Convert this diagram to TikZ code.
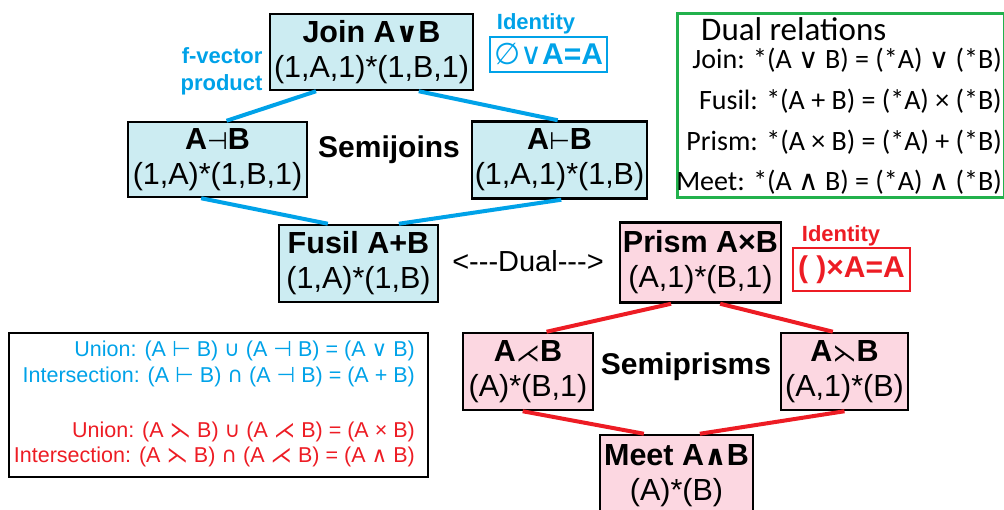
\documentclass[tikz,border=0pt]{standalone}
\usepackage{fontspec}
\setmainfont{Liberation Sans}
\newfontfamily\symf{DejaVu Sans}
\newfontfamily\calf{Carlito}
\usetikzlibrary{calc}
\definecolor{jblue}{RGB}{0,162,232}
\definecolor{jfill}{RGB}{204,236,242}
\definecolor{pred}{RGB}{237,28,36}
\definecolor{pfill}{RGB}{252,215,225}
\definecolor{dgreen}{RGB}{34,177,76}
\newcommand{\op}[1]{{\symf\mdseries #1}}
\newcommand{\sop}[1]{{\symf\fontsize{28}{28}\selectfont #1}}
\newcommand{\tiop}[1]{{\symf\mdseries\fontsize{24}{24}\selectfont #1}}

\begin{document}
\begin{tikzpicture}[x=1pt,y=-1pt]
    \useasboundingbox (0,0) rectangle (1004,510);
    \begin{scope}[every node/.style={draw=black,line width=2.5pt,inner sep=0pt,align=center,
        font=\fontsize{30.5}{35}\selectfont}]
      \node[fill=jfill,minimum width=203,minimum height=76] (J) at (371.5,52) {\textbf{Join A\sop{∨}B}\\(1,A,1)*(1,B,1)};
      \node[fill=jfill,minimum width=179,minimum height=75] (SL) at (217.5,159.5) {\textbf{A\tiop{⊣}B}\\(1,A)*(1,B,1)};
      \node[fill=jfill,minimum width=175,minimum height=77] (SR) at (559.5,160) {\textbf{A\tiop{⊢}B}\\(1,A,1)*(1,B)};
      \node[fill=jfill,minimum width=159,minimum height=77] (F) at (358.5,263.5) {\textbf{Fusil A+B}\\(1,A)*(1,B)};

      \node[fill=pfill,minimum width=161,minimum height=80] (P) at (700.5,262.5) {\textbf{Prism A×B}\\(A,1)*(B,1)};
      \node[fill=pfill,minimum width=130,minimum height=77] (QL) at (528,371.5) {\textbf{A\tiop{⋌}B}\\(A)*(B,1)};
      \node[fill=pfill,minimum width=127,minimum height=77] (QR) at (844.5,371.5) {\textbf{A\tiop{⋋}B}\\(A,1)*(B)};
      \node[fill=pfill,minimum width=153,minimum height=82] (M) at (676.5,476) {\textbf{Meet A\sop{∧}B}\\(A)*(B)};
    \end{scope}

    \begin{scope}[every edge/.style={draw=jblue,line width=4pt}]
      \path ($(J.south west)!.23!(J.south east)$) edge ($(SL.north west)!.55!(SL.north east)$);
      \path ($(J.south west)!.73!(J.south east)$) edge ($(SR.north west)!.49!(SR.north east)$);
      \path ($(SL.south west)!.41!(SL.south east)$) edge ($(F.north west)!.31!(F.north east)$);
      \path ($(SR.south west)!.51!(SR.south east)$) edge ($(F.north west)!.75!(F.north east)$);
    \end{scope}

    \begin{scope}[every edge/.style={draw=pred,line width=4pt}]
      \path ($(P.south west)!.32!(P.south east)$) edge ($(QL.north west)!.64!(QL.north east)$);
      \path ($(P.south west)!.62!(P.south east)$) edge ($(QR.north west)!.41!(QR.north east)$);
      \path ($(QL.south west)!.46!(QL.south east)$) edge ($(M.north west)!.29!(M.north east)$);
      \path ($(QR.south west)!.5!(QR.south east)$) edge ($(M.north west)!.65!(M.north east)$);
    \end{scope}

    \node[font=\bfseries\fontsize{30}{30}\selectfont] (sj) at (389,150) {Semijoins};
    \node[font=\bfseries\fontsize{30}{30}\selectfont] (sp) at (686,367) {Semiprisms};
    \node[font=\fontsize{29}{29}\selectfont] (du) at (528,261) {<{-}{-}{-}Dual{-}{-}{-}>};

    \node[anchor=east,align=right,text=jblue,font=\bfseries\fontsize{22}{27}\selectfont] (fv) at (266,71) {f-vector\\product};

    \begin{scope}[every node/.style={font=\bfseries\fontsize{22}{22}\selectfont}]
      \node[anchor=base,text=jblue] (ij) at (536,30) {Identity};
      \node[anchor=base,text=pred] (ip) at (841,242) {Identity};
    \end{scope}
    \node[draw=jblue,line width=2pt,minimum width=117,minimum height=35,inner sep=0pt,text=jblue,
      font=\fontsize{30}{30}\selectfont] (ijx) at (548.5,54.5) {\op{∅∨}\textbf{A=A}};
    \node[draw=pred,line width=2pt,minimum width=117,minimum height=43,inner sep=0pt,text=pred,
      font=\bfseries\fontsize{30}{30}\selectfont] (ipx) at (851.5,269.5) {( )×A=A};

    \node[draw=dgreen,line width=3pt,minimum width=327,minimum height=184,inner sep=0pt] (dr) at (840.5,106) {};
    \begin{scope}[every node/.style={font=\calf\fontsize{28}{28}\selectfont,inner sep=0pt}]
      \node[anchor=base west,font=\calf\fontsize{33}{33}\selectfont] (drt) at (701,41) {Dual relations};
      \node[anchor=base east] (dr1) at (1002,69) {Join: *(A \op{∨} B) = (*A) \op{∨} (*B)};
      \node[anchor=base east] (dr2) at (1002,110) {Fusil: *(A + B) = (*A) × (*B)};
      \node[anchor=base east] (dr3) at (1002,151) {Prism: *(A × B) = (*A) + (*B)};
      \node[anchor=base east] (dr4) at (1002,191) {Meet: *(A \op{∧} B) = (*A) \op{∧} (*B)};
    \end{scope}

    \node[draw=black,line width=2.5pt,minimum width=419,minimum height=144,inner sep=0pt] (ub) at (218.5,405) {};
    \begin{scope}[every node/.style={font=\fontsize{21.5}{21.5}\selectfont,inner sep=0pt,anchor=base east}]
      \node[text=jblue] (u1) at (415,357) {Union: (A \op{⊢} B) \op{∪} (A \op{⊣} B) = (A \op{∨} B)};
      \node[text=jblue] (u2) at (415,383) {Intersection: (A \op{⊢} B) \op{∩} (A \op{⊣} B) = (A + B)};
      \node[text=pred] (u3) at (415,437) {Union: (A \op{⋋} B) \op{∪} (A \op{⋌} B) = (A × B)};
      \node[text=pred] (u4) at (415,462) {Intersection: (A \op{⋋} B) \op{∩} (A \op{⋌} B) = (A \op{∧} B)};
    \end{scope}
\end{tikzpicture}
\end{document}
